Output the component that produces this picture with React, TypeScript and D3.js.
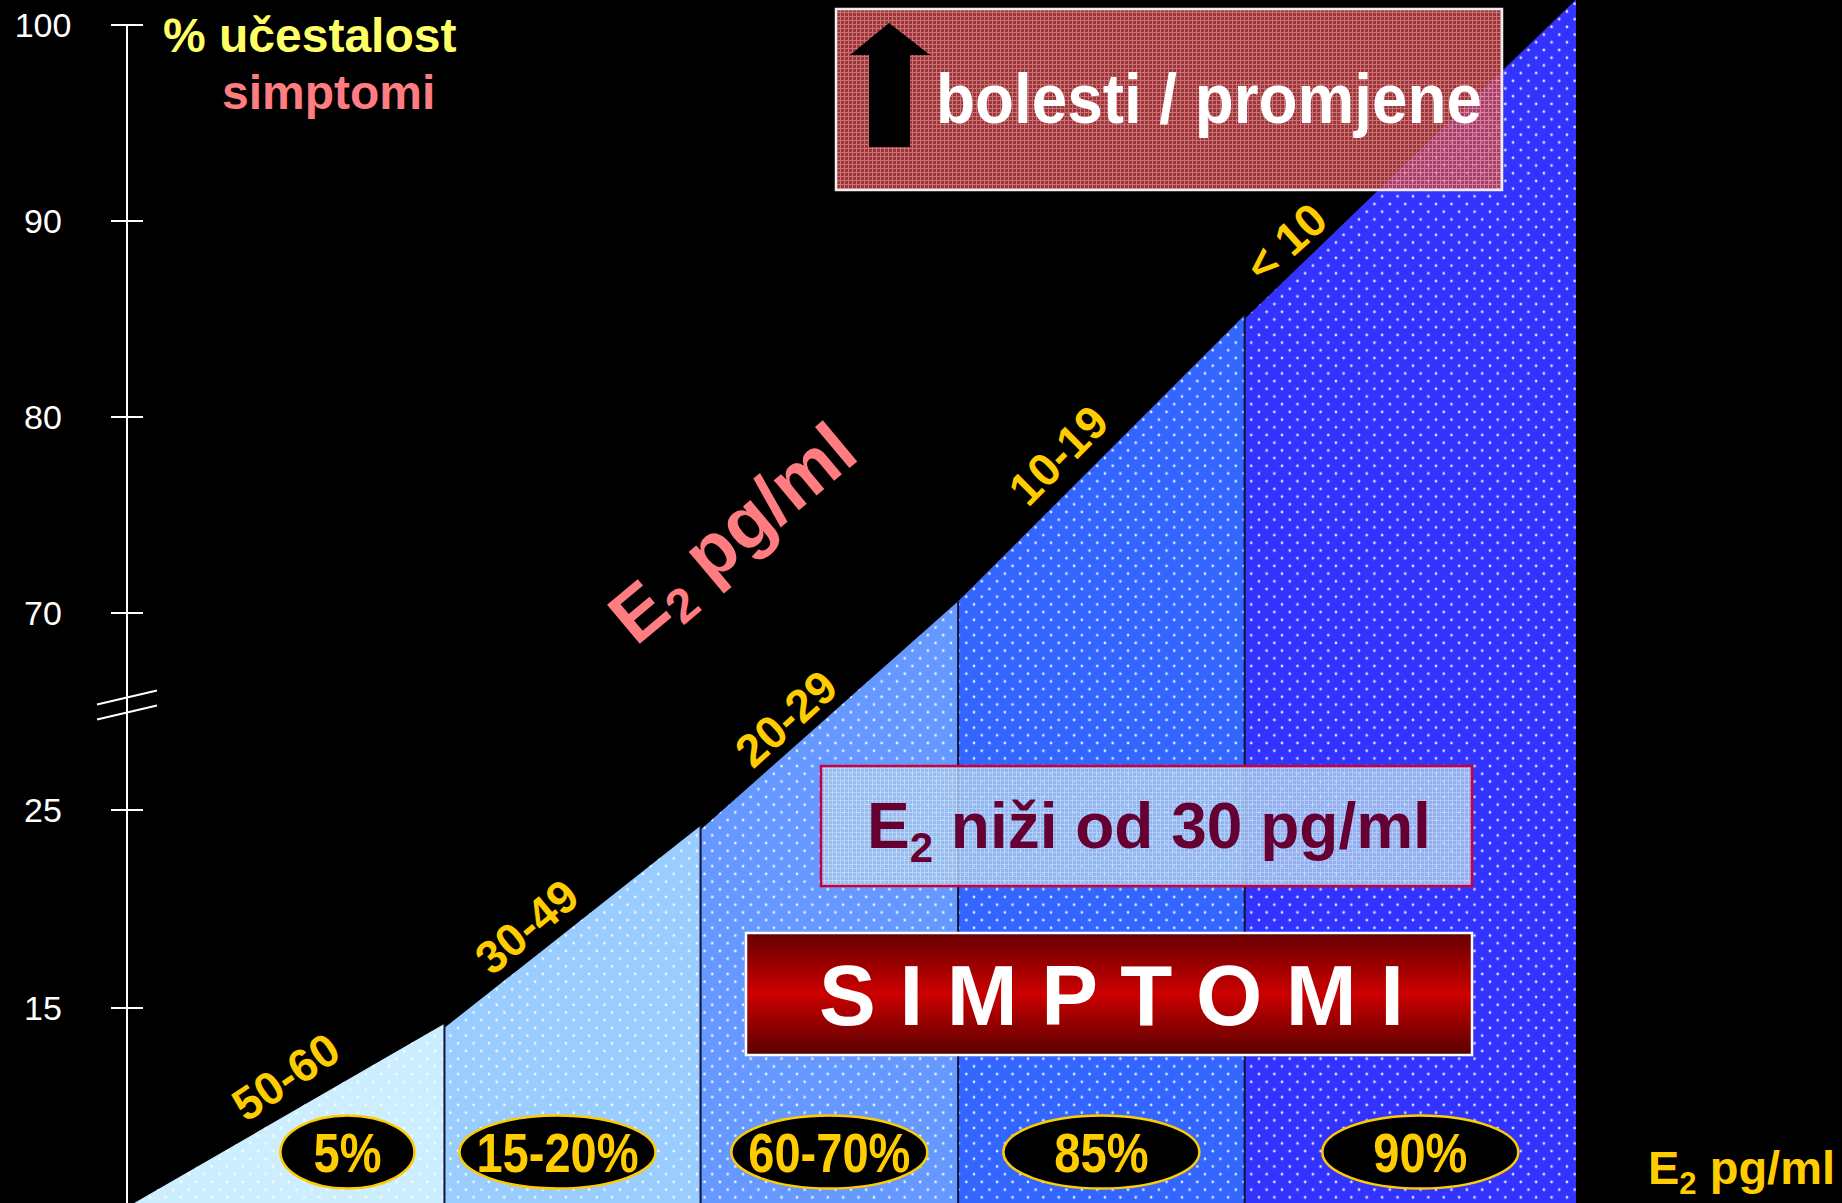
import React from "react";
import * as d3 from "d3";

const W = 1842;
const H = 1203;

// y axis ticks (broken axis between 25 and 70)
const yTicks = [100, 90, 80, 70, 25, 15];
// E2 bands, frequency of symptoms
const bands = ["50-60", "30-49", "20-29", "10-19", "< 10"];
const shares = ["5%", "15-20%", "60-70%", "85%", "90%"];
// band edges in % of the x axis length
const bandEdges = [0, 21.8, 39.5, 57.3, 77.1, 100];
// frequency at left / right edge of each band
const bandStart = [5, 14.0, 24.0, 70.6, 85.0];
const bandEnd = [14.2, 24.2, 70.6, 85.2, 101.3];
const bandColors = ["#CCEEFF", "#99CCFF", "#6699FF", "#3366FF", "#3333FF"];

// layout of the diagonal band labels (fraction along the top edge, offset, angle)
const labelLayout = [
  { t: 0.55, off: 34, ang: 34 },
  { t: 0.39, off: 29, ang: 40 },
  { t: 0.4, off: 27, ang: 42 },
  { t: 0.43, off: 33, ang: 45 },
  { t: 0.18, off: 27, ang: 42 },
];
// horizontal nudge of the share ellipses
const ellipseNudge = [14, -15, 0, 0, 10];

const font = "'Liberation Sans', Arial, Helvetica, sans-serif";

export default function App() {
  const x = d3.scaleLinear().domain([0, 100]).range([129, 1576]);
  const y = d3
    .scaleLinear()
    .domain([5, 15, 25, 70, 100])
    .range([1206, 1008, 810, 613, 25]);

  const cols = bands.map((b, i) => {
    const x0 = x(bandEdges[i]);
    const x1 = x(bandEdges[i + 1]);
    const y0 = y(bandStart[i]);
    const y1 = y(bandEnd[i]);
    return { b, i, x0, x1, y0, y1 };
  });

  const ellipseY = 1152;

  return (
    <div>
      <style>{`body{margin:0;background:#000}`}</style>
      <svg width={W} height={H} style={{ display: "block", background: "#000" }}>
        <defs>
          <pattern id="dots" width="15.4" height="15.4" patternUnits="userSpaceOnUse">
            <circle cx="3.85" cy="3.85" r="1.35" fill="#fff" opacity="0.85" />
            <circle cx="11.55" cy="11.55" r="1.35" fill="#fff" opacity="0.85" />
          </pattern>
          <pattern id="redGrid" width="4" height="4" patternUnits="userSpaceOnUse">
            <rect width="4" height="4" fill="#B8444C" />
            <path d="M0 0.5H4M0.5 0V4" stroke="#FF8A8A" strokeWidth="1" />
          </pattern>
          <pattern id="blueGrid" width="4" height="4" patternUnits="userSpaceOnUse">
            <rect width="4" height="4" fill="#9EC0EC" />
            <path d="M0 0.5H4M0.5 0V4" stroke="#C6DCF6" strokeWidth="1" />
          </pattern>
          <linearGradient id="redGrad" x1="0" y1="0" x2="0" y2="1">
            <stop offset="0" stopColor="#660000" />
            <stop offset="0.5" stopColor="#CC0000" />
            <stop offset="1" stopColor="#580000" />
          </linearGradient>
        </defs>

        {/* band areas */}
        {cols.map((c) => {
          const pts = `${c.x0},${H} ${c.x0},${c.y0} ${c.x1},${c.y1} ${c.x1},${H}`;
          return (
            <g key={c.b}>
              <polygon points={pts} fill={bandColors[c.i]} />
              <polygon points={pts} fill="url(#dots)" />
            </g>
          );
        })}
        {cols.slice(1).map((c) => (
          <line
            key={"sep" + c.b}
            x1={c.x0}
            x2={c.x0}
            y1={Math.min(c.y0, cols[c.i - 1].y1)}
            y2={H}
            stroke="#111133"
            strokeWidth={2}
          />
        ))}

        {/* y axis */}
        <line x1={127} x2={127} y1={y(100)} y2={H} stroke="#fff" strokeWidth={2} />
        {yTicks.map((t) => (
          <g key={t}>
            <line x1={111} x2={143} y1={y(t)} y2={y(t)} stroke="#fff" strokeWidth={2} />
            <text
              x={43}
              y={y(t)}
              dy="0.36em"
              textAnchor="middle"
              fill="#fff"
              fontFamily={font}
              fontSize={34}
            >
              {t}
            </text>
          </g>
        ))}
        {(() => {
          const yb = y(70) + (y(25) - y(70)) * 0.47;
          return (
            <g stroke="#fff" strokeWidth={2}>
              <line x1={97} x2={157} y1={yb - 1} y2={yb - 15} />
              <line x1={97} x2={157} y1={yb + 14} y2={yb} />
            </g>
          );
        })()}

        <text x={163} y={52} fill="#FFFF66" fontFamily={font} fontWeight="bold" fontSize={48}>
          % učestalost
        </text>
        <text x={222} y={109} fill="#FF7C80" fontFamily={font} fontWeight="bold" fontSize={48}>
          simptomi
        </text>

        {/* diagonal band labels */}
        {cols.map((c) => {
          const L = labelLayout[c.i];
          const dx = c.x1 - c.x0;
          const dy = c.y1 - c.y0;
          const len = Math.hypot(dx, dy);
          const ux = dx / len;
          const uy = dy / len;
          const px = c.x0 + dx * L.t + uy * L.off;
          const py = c.y0 + dy * L.t - ux * L.off;
          return (
            <text
              key={"lab" + c.b}
              transform={`translate(${px},${py}) rotate(${-L.ang})`}
              textAnchor="middle"
              dy="0.36em"
              fill="#FFCC00"
              fontFamily={font}
              fontWeight="bold"
              fontSize={46}
            >
              {c.b}
            </text>
          );
        })}

        {/* share ellipses */}
        {cols.map((c) => {
          // centre of the visible part of the band at ellipse height
          let left = c.x0;
          if (c.y0 > ellipseY) {
            left = c.x0 + ((c.y0 - ellipseY) / (c.y0 - c.y1)) * (c.x1 - c.x0);
          }
          const cx = (left + c.x1) / 2 + ellipseNudge[c.i];
          const rx = c.i === 0 ? 67 : 98;
          return (
            <g key={"sh" + c.b}>
              <ellipse cx={cx} cy={ellipseY} rx={rx} ry={36.5} fill="#000" stroke="#FFCC00" strokeWidth={2.5} />
              <text
                transform={`translate(${cx},${ellipseY + 20}) scale(0.84,1)`}
                textAnchor="middle"
                fill="#FFCC00"
                fontFamily={font}
                fontWeight="bold"
                fontSize={56}
              >
                {shares[c.i]}
              </text>
            </g>
          );
        })}

        {/* E2 pg/ml diagonal */}
        <text
          transform="translate(636,647) rotate(-40)"
          fill="#FF7C80"
          fontFamily={font}
          fontWeight="bold"
          fontSize={74}
        >
          E
          <tspan fontSize={48} dy={14}>2</tspan>
          <tspan dy={-14}> pg/ml</tspan>
        </text>

        {/* bolesti / promjene */}
        <g opacity={0.82}>
          <rect x={836} y={9} width={666} height={181} fill="url(#redGrid)" />
        </g>
        <rect x={836} y={9} width={666} height={181} fill="none" stroke="#EEEEEE" strokeWidth={2.5} />
        <polygon points="889,23 930,55 910,55 910,147 869,147 869,55 850,55" fill="#000" />
        <text
          x={936}
          y={123}
          textLength={546}
          lengthAdjust="spacingAndGlyphs"
          fill="#fff"
          fontFamily={font}
          fontWeight="bold"
          fontSize={70}
        >
          bolesti / promjene
        </text>

        {/* E2 nizi od 30 */}
        <rect x={821} y={766} width={651} height={120} fill="url(#blueGrid)" opacity={0.88} />
        <rect x={821} y={766} width={651} height={120} fill="none" stroke="#C8003C" strokeWidth={2.5} />
        <text x={867} y={848} fill="#660033" fontFamily={font} fontWeight="bold" fontSize={64}>
          E
          <tspan fontSize={42} dy={14}>2</tspan>
          <tspan dy={-14}> niži od 30 pg/ml</tspan>
        </text>

        {/* SIMPTOMI */}
        <rect x={746} y={933} width={726} height={122} fill="url(#redGrad)" stroke="#fff" strokeWidth={2.5} />
        <text
          x={819}
          y={1025}
          textLength={585}
          lengthAdjust="spacingAndGlyphs"
          fill="#fff"
          fontFamily={font}
          fontWeight="bold"
          fontSize={86}
        >
          S I M P T O M I
        </text>

        {/* axis title */}
        <text x={1648} y={1184} fill="#FFCC00" fontFamily={font} fontWeight="bold" fontSize={47}>
          E
          <tspan fontSize={31} dy={10}>2</tspan>
          <tspan dy={-10}> pg/ml</tspan>
        </text>
      </svg>
    </div>
  );
}
